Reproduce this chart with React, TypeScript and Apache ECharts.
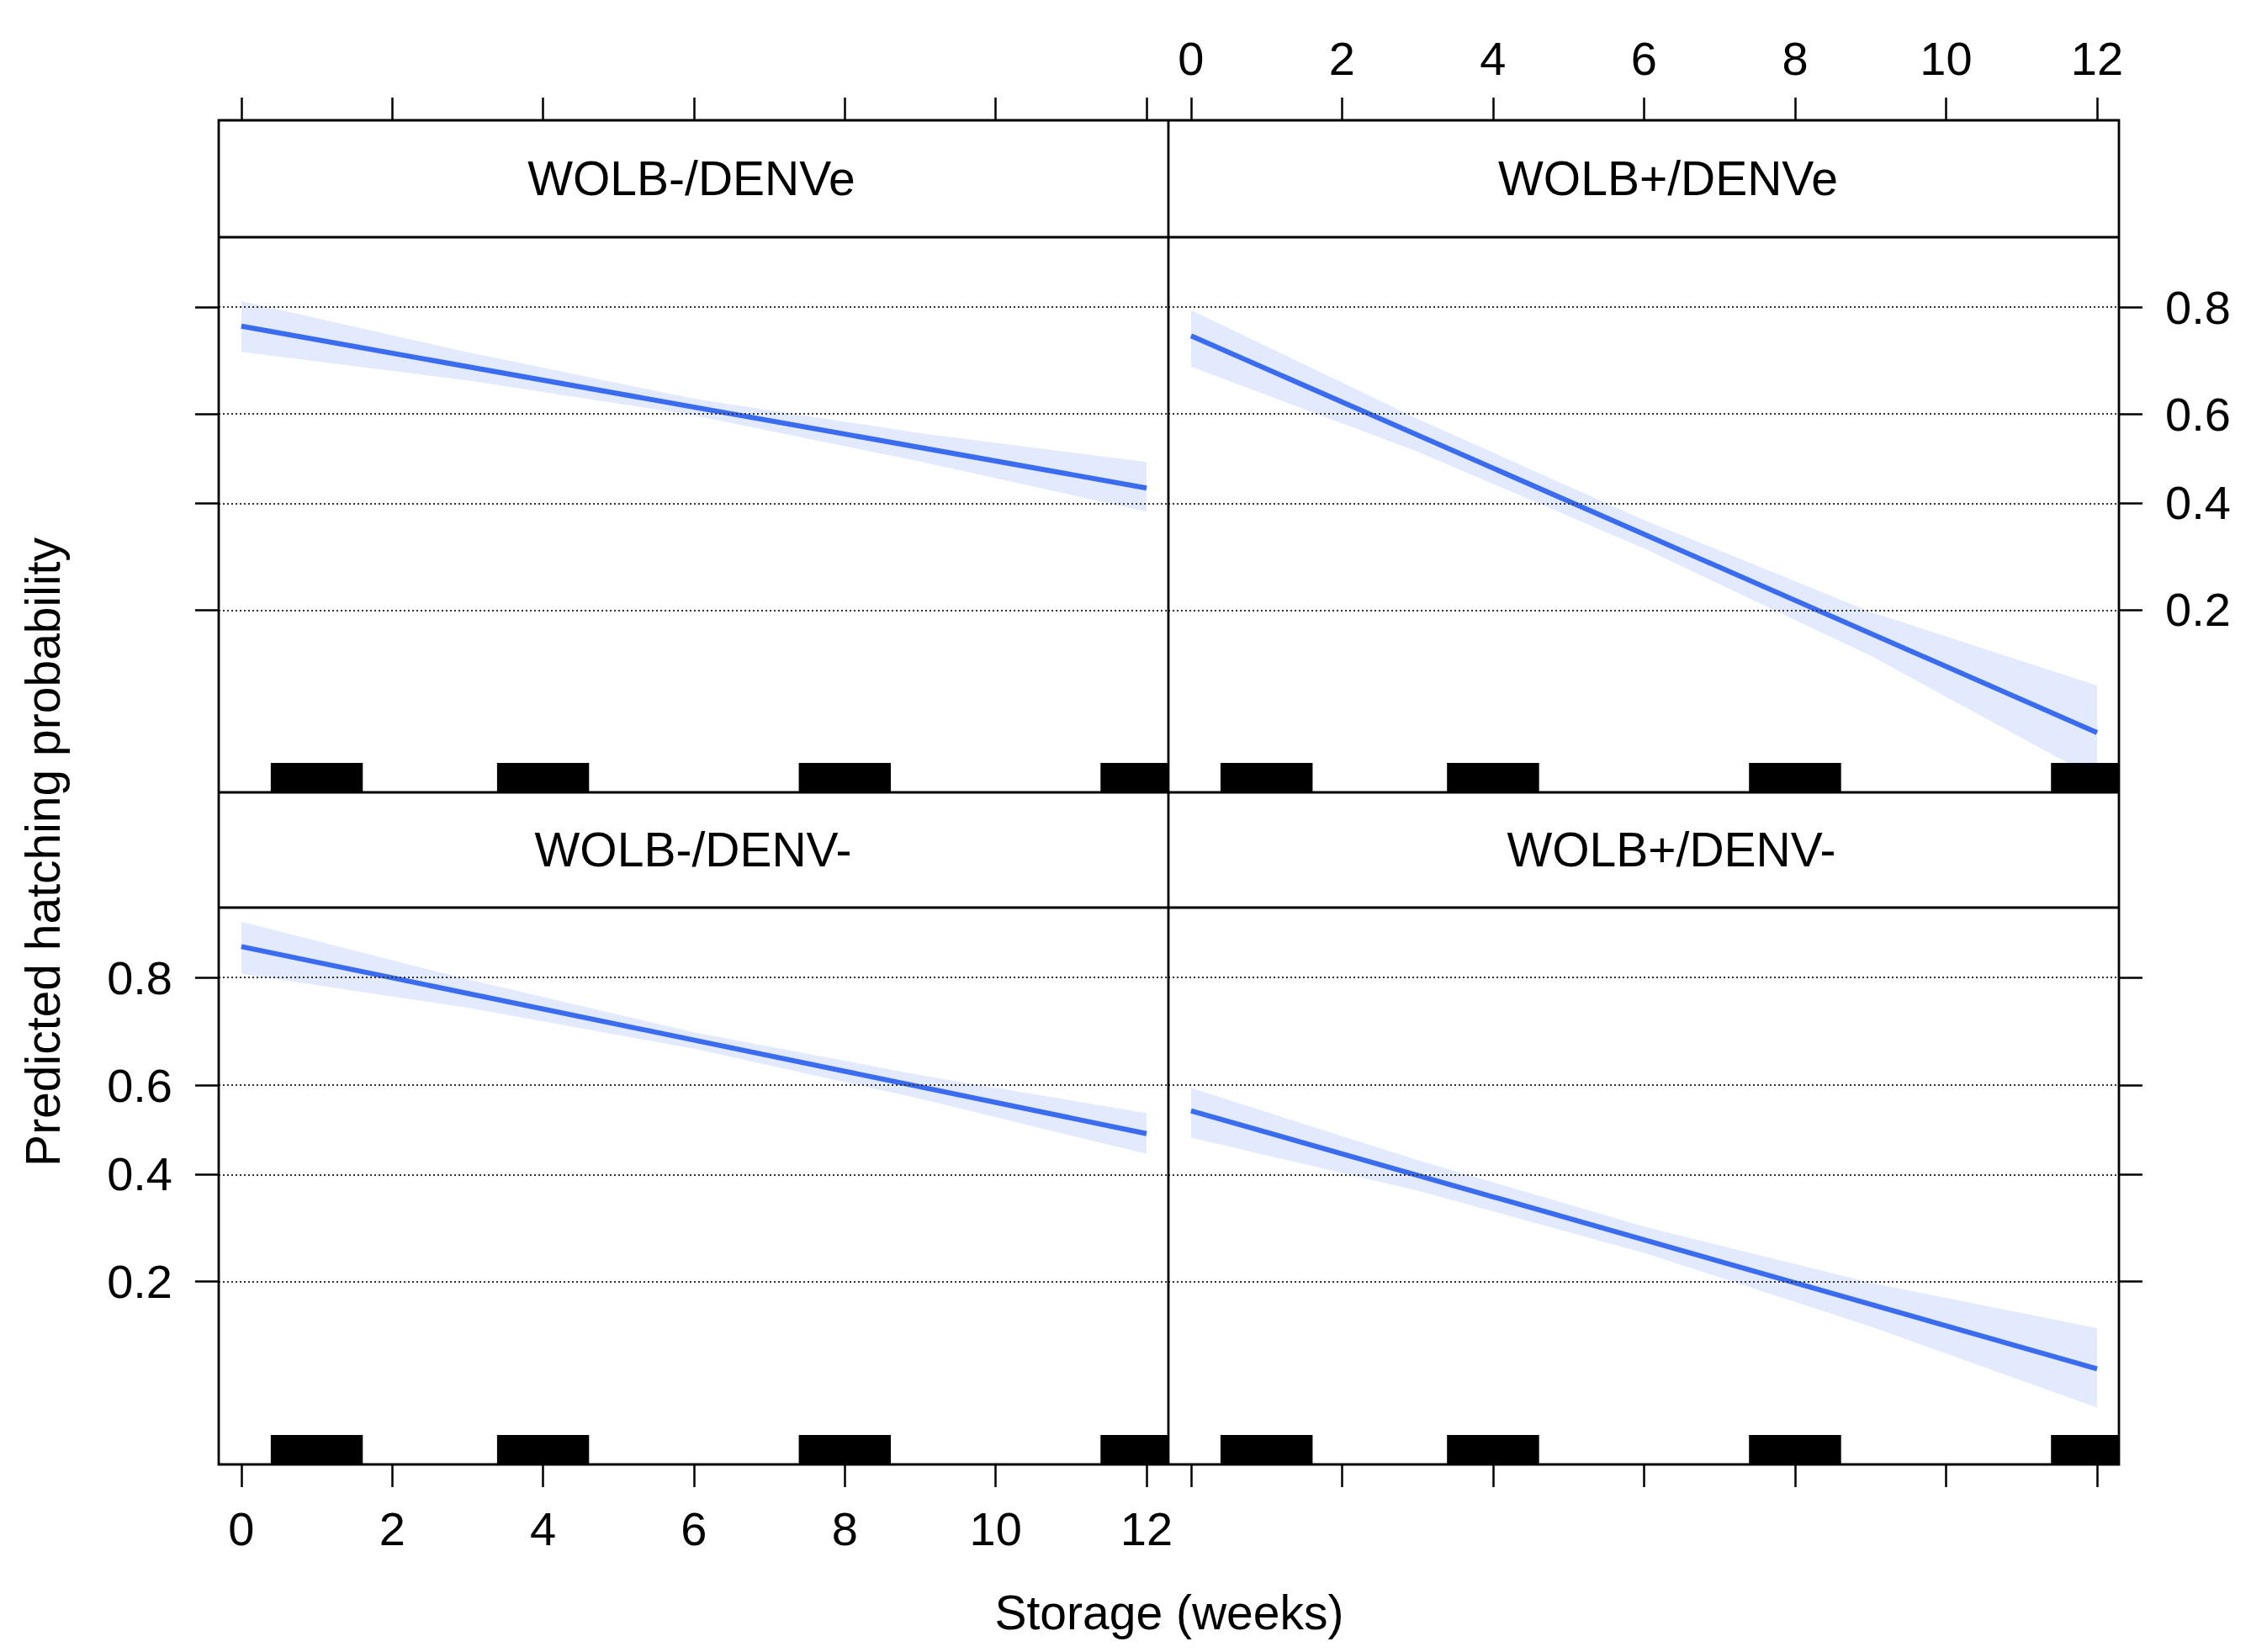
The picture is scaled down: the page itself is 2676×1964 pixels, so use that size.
import { useEffect, useRef } from 'react';
import * as echarts from 'echarts';

// panel labels (lattice strips)
const panelNames = ['WOLB-/DENVe', 'WOLB+/DENVe', 'WOLB-/DENV-', 'WOLB+/DENV-'];

// fitted line, predicted probability at weeks 0 and 12
const fitWeeks = [0, 12];
const fitNegE = [0.771, 0.433];
const fitPosE = [0.755, 0.075];
const fitNegN = [0.842, 0.491];
const fitPosN = [0.543, 0.101];

// confidence band
const bandWeeks = [0, 3, 6, 9, 12];
const upNegE = [0.809, 0.726, 0.634, 0.558, 0.492];
const loNegE = [0.727, 0.672, 0.598, 0.493, 0.381];
const upPosE = [0.796, 0.59, 0.363, 0.197, 0.111];
const loPosE = [0.699, 0.516, 0.305, 0.141, 0.0504];
const upNegN = [0.87, 0.798, 0.709, 0.622, 0.538];
const loNegN = [0.806, 0.753, 0.677, 0.57, 0.445];
const upPosN = [0.594, 0.431, 0.292, 0.198, 0.14];
const loPosN = [0.482, 0.364, 0.245, 0.142, 0.073];

// rug of observed storage times (jittered around these weeks)
const rugWeeks = [1, 4, 8, 12];
const rugSpread = 0.61;

// axis ticks
const weekTicks = [0, 2, 4, 6, 8, 10, 12];
const probTicks = [0.2, 0.4, 0.6, 0.8];

const logit = (p: number) => Math.log(p / (1 - p));
const invLogit = (v: number) => 1 / (1 + Math.exp(-v));

const X_MIN = -0.3;
const X_MAX = 12.29;
const Y_MIN = -3.06;
const Y_MAX = 2.03;

const FONT = "'Liberation Sans', Arial, Helvetica, sans-serif";
const LINE_COLOR = '#3a6cf2';
const BAND_COLOR = '#e3eafd';

const App = () => {
  const chartRef = useRef<HTMLDivElement>(null);

  useEffect(() => {
    if (!chartRef.current) return;
    const chart = echarts.init(chartRef.current, undefined, { renderer: 'svg' });

    const fits = [fitNegE, fitPosE, fitNegN, fitPosN];
    const uppers = [upNegE, upPosE, upNegN, upPosN];
    const lowers = [loNegE, loPosE, loNegN, loPosN];

    const grids = [
      { left: 260, top: 282, width: 1129, height: 660 },
      { left: 1389, top: 282, width: 1130, height: 660 },
      { left: 260, top: 1079, width: 1129, height: 662 },
      { left: 1389, top: 1079, width: 1130, height: 662 },
    ];

    const tickStyle = { color: '#000', width: 2.5 };
    const labelStyle = { color: '#000', fontSize: 56, fontFamily: FONT };

    const xAxes = grids.map((_, i) => {
      const top = i < 2;
      const showLabel = i === 1 || i === 2;
      return {
        gridIndex: i,
        type: 'value' as const,
        min: X_MIN,
        max: X_MAX,
        position: top ? 'top' : 'bottom',
        offset: top ? 139 : 0,
        axisLine: { show: false, onZero: false },
        axisTick: { show: true, length: 27, customValues: weekTicks, lineStyle: tickStyle },
        axisLabel: {
          show: showLabel,
          customValues: weekTicks,
          margin: top ? 46 : 48,
          ...labelStyle,
        },
        splitLine: { show: false },
      };
    });

    const yAxes = grids.map((_, i) => {
      const left = i % 2 === 0;
      const showLabel = i === 1 || i === 2;
      return {
        gridIndex: i,
        type: 'value' as const,
        min: Y_MIN,
        max: Y_MAX,
        position: left ? 'left' : 'right',
        axisLine: { show: false, onZero: false },
        axisTick: { show: true, length: 28, customValues: probTicks.map(logit), lineStyle: tickStyle },
        axisLabel: {
          show: showLabel,
          customValues: probTicks.map(logit),
          formatter: (v: number) => invLogit(v).toFixed(1),
          margin: 55,
          ...labelStyle,
        },
        splitLine: { show: false },
      };
    });

    const series: any[] = [];
    grids.forEach((_, i) => {
      const fitData = fitWeeks.map((w, k) => [w, logit(fits[i][k])]);
      // dotted reference lines
      series.push({
        type: 'line',
        xAxisIndex: i,
        yAxisIndex: i,
        data: fitData,
        symbol: 'none',
        lineStyle: { opacity: 0 },
        silent: true,
        z: 1,
        markLine: {
          silent: true,
          symbol: ['none', 'none'],
          label: { show: false },
          lineStyle: { color: '#333', width: 2, type: [2, 3] },
          data: probTicks.map((p) => ({ yAxis: logit(p) })),
        },
      });
      // confidence band
      series.push({
        type: 'custom',
        xAxisIndex: i,
        yAxisIndex: i,
        data: [[6, 0]],
        silent: true,
        z: 2,
        renderItem: (_params: any, api: any) => {
          const top = bandWeeks.map((w, k) => api.coord([w, logit(uppers[i][k])]));
          const bot = bandWeeks.map((w, k) => api.coord([w, logit(lowers[i][k])])).reverse();
          return {
            type: 'polygon',
            shape: { points: [...top, ...bot] },
            style: { fill: BAND_COLOR },
          };
        },
      });
      // fitted line
      series.push({
        type: 'line',
        xAxisIndex: i,
        yAxisIndex: i,
        data: fitData,
        symbol: 'none',
        lineStyle: { color: LINE_COLOR, width: 6 },
        silent: true,
        z: 3,
      });
      // rug
      series.push({
        type: 'custom',
        xAxisIndex: i,
        yAxisIndex: i,
        data: rugWeeks.map((w) => [w, Y_MIN]),
        silent: true,
        z: 4,
        renderItem: (params: any, api: any) => {
          const w = api.value(0);
          const p1 = api.coord([w - rugSpread, Y_MIN]);
          const p2 = api.coord([w + rugSpread, Y_MIN]);
          const h = 35;
          const rect = echarts.graphic.clipRectByRect(
            { x: p1[0], y: p1[1] - h, width: p2[0] - p1[0], height: h },
            {
              x: params.coordSys.x,
              y: params.coordSys.y,
              width: params.coordSys.width,
              height: params.coordSys.height,
            }
          );
          if (!rect) return null;
          return { type: 'rect', shape: rect, style: { fill: '#000' } };
        },
      });
    });

    const stripCenters = [
      [822, 212],
      [1983, 212],
      [824, 1010],
      [1987, 1010],
    ];
    const frameStyle = { stroke: '#000', lineWidth: 2.8 };

    const option: any = {
      animation: false,
      backgroundColor: '#fff',
      grid: grids,
      xAxis: xAxes,
      yAxis: yAxes,
      series,
      graphic: [
        {
          type: 'rect',
          shape: { x: 260, y: 143, width: 2259, height: 1598 },
          style: { fill: 'none', ...frameStyle },
          z: 10,
        },
        { type: 'line', shape: { x1: 260, y1: 282, x2: 2519, y2: 282 }, style: frameStyle, z: 10 },
        { type: 'line', shape: { x1: 260, y1: 942, x2: 2519, y2: 942 }, style: frameStyle, z: 10 },
        { type: 'line', shape: { x1: 260, y1: 1079, x2: 2519, y2: 1079 }, style: frameStyle, z: 10 },
        { type: 'line', shape: { x1: 1389, y1: 143, x2: 1389, y2: 1741 }, style: frameStyle, z: 10 },
        ...panelNames.map((name, i) => ({
          type: 'text',
          x: stripCenters[i][0],
          y: stripCenters[i][1],
          z: 10,
          style: {
            text: name,
            fill: '#000',
            font: `57px ${FONT}`,
            textAlign: 'center',
            textVerticalAlign: 'middle',
          },
        })),
        {
          type: 'text',
          x: 1390,
          y: 1917,
          style: {
            text: 'Storage (weeks)',
            fill: '#000',
            font: `57px ${FONT}`,
            textAlign: 'center',
            textVerticalAlign: 'middle',
          },
        },
        {
          type: 'text',
          x: 51,
          y: 1013,
          rotation: Math.PI / 2,
          style: {
            text: 'Predicted hatching probability',
            fill: '#000',
            font: `57px ${FONT}`,
            textAlign: 'center',
            textVerticalAlign: 'middle',
          },
        },
      ],
    };

    chart.setOption(option);

    return () => {
      chart.dispose();
    };
  }, []);

  return (
    <div
      ref={chartRef}
      style={{ position: 'absolute', left: 0, top: 0, width: 2676, height: 1964 }}
    />
  );
};

export default App;
